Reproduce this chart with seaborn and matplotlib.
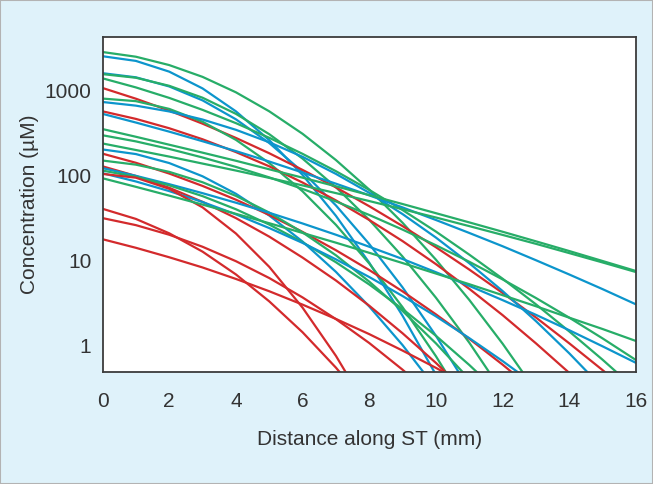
import matplotlib
matplotlib.use("Agg")
import matplotlib.pyplot as plt
from matplotlib.patches import Rectangle
from matplotlib.ticker import NullLocator
import pandas as pd
import seaborn as sns

# distance along scala tympani (mm), every 1 mm
distance = [0, 1, 2, 3, 4, 5, 6, 7, 8, 9, 10, 11, 12, 13, 14, 15, 16]

# concentration profiles (uM); a curve stops once it is below the axis
green_1 = [2880, 2535, 2020, 1466, 964, 575, 312, 153, 68.5, 27.8, 10.2, 3.42, 1.04, 0.286]
green_2 = [1580, 1432, 1150, 832, 537, 309, 159, 73.1, 30.1, 11.1, 3.63, 1.07, 0.279]
green_3 = [1410, 1101, 828, 598, 417, 280, 181, 113, 67.9, 39.3, 21.9, 11.7, 6.08, 3.03, 1.45, 0.672, 0.30]
green_4 = [813, 758, 614, 433, 265, 141, 65.4, 26.3, 9.2, 2.8, 0.74, 0.171]
green_5 = [355, 288, 232, 187, 150, 119, 94.8, 75.0, 59.0, 46.3, 36.1, 28.1, 21.8, 16.8, 12.9, 9.84, 7.5]
green_6 = [300, 254, 207, 164, 127, 95.5, 69.8, 49.7, 34.4, 23.1, 15.1, 9.64, 5.97, 3.6, 2.11, 1.2, 0.667]
green_7 = [240, 201, 168, 139, 115, 94.2, 76.8, 62.3, 50.2, 40.2, 32.1, 25.4, 20.0, 15.7, 12.2, 9.46, 7.29]
green_8 = [151, 135, 111, 83.7, 57.8, 36.7, 21.4, 11.5, 5.62, 2.53, 1.05, 0.397]
green_9 = [115, 96.9, 76.9, 57.4, 40.2, 26.5, 16.4, 9.52, 5.2, 2.67, 1.29, 0.584, 0.249]
green_10 = [93.3, 73.9, 58.2, 45.6, 35.5, 27.5, 21.1, 16.2, 12.3, 9.31, 7.0, 5.24, 3.89, 2.88, 2.11, 1.55, 1.12]

blue_1 = [2570, 2262, 1690, 1071, 575, 263, 102, 33.6, 9.4, 2.22, 0.447]
blue_2 = [1620, 1449, 1130, 774, 463, 243, 111, 44.6, 15.6, 4.8, 1.29, 0.303]
blue_3 = [741, 671, 573, 460, 348, 248, 167, 105, 62.8, 35.2, 18.6, 9.27, 4.35, 1.92, 0.80, 0.313]
blue_4 = [537, 424, 331, 255, 195, 147, 109, 80.5, 58.6, 42.2, 30.0, 21.1, 14.7, 10.05, 6.82, 4.58, 3.03]
blue_5 = [204, 180, 141, 98.4, 61.2, 33.9, 16.7, 7.33, 2.86, 1.0, 0.309]
blue_6 = [123, 99.6, 79.4, 62.2, 48.0, 36.5, 27.3, 20.1, 14.5, 10.4, 7.26, 5.01, 3.40, 2.28, 1.50, 0.968, 0.618]
blue_7 = [107, 85.5, 65.8, 48.9, 35.0, 24.1, 16.1, 10.3, 6.37, 3.8, 2.19, 1.21, 0.649, 0.335]

red_1 = [1084, 810, 586, 411, 279, 184, 117, 72.8, 43.6, 25.4, 14.3, 7.8, 4.13, 2.12, 1.05, 0.507, 0.237]
red_2 = [575, 468, 363, 269, 190, 129, 83.0, 51.1, 30.0, 16.9, 9.04, 4.62, 2.26, 1.05, 0.47]
red_3 = [182, 142, 106, 75.7, 52.1, 34.4, 21.7, 13.2, 7.7, 4.31, 2.31, 1.19, 0.589, 0.279]
red_4 = [129, 99.3, 72.0, 49.1, 31.6, 19.1, 10.8, 5.8, 2.92, 1.38, 0.617, 0.259]
red_5 = [105, 94.7, 70.0, 42.3, 20.8, 8.41, 2.77, 0.748, 0.165]
red_6 = [40.7, 30.9, 20.9, 12.7, 6.84, 3.29, 1.42, 0.543, 0.186]
red_7 = [31.6, 26.1, 20.1, 14.5, 9.8, 6.2, 3.66, 2.03, 1.06, 0.513, 0.233]
red_8 = [17.8, 14.1, 10.9, 8.26, 6.05, 4.33, 3.01, 2.04, 1.35, 0.863, 0.54, 0.328]

GREEN = "#27ad68"
BLUE = "#0c95cc"
RED = "#d32a2c"
BG = "#dff2fa"
TXT = "#333333"

curves = [
    ("g1", green_1, GREEN), ("b1", blue_1, BLUE), ("b2", blue_2, BLUE),
    ("g2", green_2, GREEN), ("g3", green_3, GREEN), ("r1", red_1, RED),
    ("g4", green_4, GREEN), ("b3", blue_3, BLUE), ("r2", red_2, RED),
    ("b4", blue_4, BLUE), ("g5", green_5, GREEN), ("g6", green_6, GREEN),
    ("g7", green_7, GREEN), ("b5", blue_5, BLUE), ("r3", red_3, RED),
    ("g8", green_8, GREEN), ("r4", red_4, RED), ("b6", blue_6, BLUE),
    ("g9", green_9, GREEN), ("b7", blue_7, BLUE), ("r5", red_5, RED),
    ("g10", green_10, GREEN), ("r6", red_6, RED), ("r7", red_7, RED),
    ("r8", red_8, RED),
]

rows = []
for name, vals, _ in curves:
    for x, c in zip(distance, vals):
        rows.append({"distance": x, "conc": c, "curve": name})
df = pd.DataFrame(rows)
palette = {name: col for name, _, col in curves}

sns.set_style("white")
plt.rcParams["font.family"] = ["Liberation Sans", "DejaVu Sans"]

fig = plt.figure(figsize=(6.53, 4.84), dpi=100, facecolor=BG)
ax = fig.add_axes([0.157, 0.231, 0.817, 0.692])
ax.set_facecolor("white")

sns.lineplot(data=df, x="distance", y="conc", hue="curve", palette=palette,
             estimator=None, sort=False, legend=False, linewidth=1.6, ax=ax)

ax.set_yscale("log")
ax.set_ylim(0.48, 4300)
ax.set_xlim(0, 16)
ax.set_yticks([1, 10, 100, 1000])
ax.set_yticklabels(["1", "10", "100", "1000"])
ax.yaxis.set_minor_locator(NullLocator())
ax.set_xticks(range(0, 17, 2))

for sp in ax.spines.values():
    sp.set_color("#3c3c3c")
    sp.set_linewidth(1.3)
ax.tick_params(direction="out", length=6, width=1.2, color="#555555",
               labelsize=15, labelcolor=TXT)
ax.tick_params(axis="x", pad=8)
ax.tick_params(axis="y", pad=2)

ax.set_xlabel("Distance along ST (mm)", fontsize=15, color=TXT, labelpad=14)
ax.set_ylabel("Concentration (µM)", fontsize=15, color=TXT, labelpad=4)

fig.patches.append(Rectangle((0, 0), 1, 1, transform=fig.transFigure, fill=False,
                             edgecolor="#b3b3b3", linewidth=1.5))

fig.savefig("out.png", dpi=100, facecolor=BG)
